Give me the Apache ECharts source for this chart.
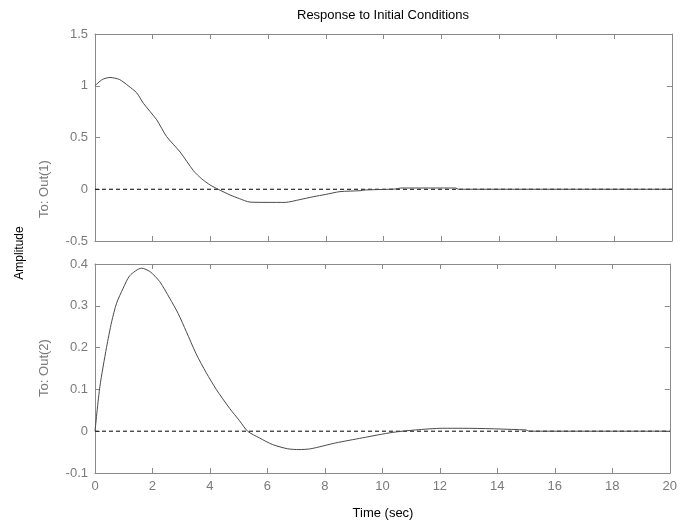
<!DOCTYPE html>
<html>
<head>
<meta charset="utf-8">
<script src="https://cdn.jsdelivr.net/npm/echarts@6/dist/echarts.min.js"></script>
<style>
  html, body { margin: 0; padding: 0; background: #fff; }
  #chart { width: 680px; height: 523px; }
</style>
</head>
<body>
<div id="chart"></div>
<script>
// Time samples (sec) and responses for each output
const timeOut1 = [0, 0.25, 0.52, 0.85, 1.15, 1.45, 1.68, 2.14, 2.48, 2.95, 3.41, 3.7, 3.99, 4.27, 4.68, 5.0, 5.37, 6.0, 6.59, 7.1, 7.57, 8.0, 8.49, 9.19, 9.36, 10.4, 10.6, 12.5, 12.6, 20];
const out1     = [1.0, 1.06, 1.08, 1.06, 1.0, 0.93, 0.83, 0.67, 0.51, 0.36, 0.18, 0.10, 0.041, 0.0, -0.055, -0.09, -0.124, -0.127, -0.127, -0.10, -0.072, -0.05, -0.023, -0.014, -0.007, 0.002, 0.012, 0.012, 0.0, 0.0];

const timeOut2 = [0, 0.17, 0.40, 0.58, 0.75, 0.98, 1.21, 1.62, 1.91, 2.25, 2.60, 2.89, 3.18, 3.52, 3.87, 4.22, 4.68, 5.03, 5.31, 5.72, 6.18, 6.70, 7.10, 7.51, 8.38, 9.30, 10.34, 11.15, 12.1, 12.8, 15.0, 15.1, 20];
const out2     = [0.0, 0.107, 0.200, 0.262, 0.306, 0.342, 0.372, 0.390, 0.382, 0.358, 0.318, 0.282, 0.238, 0.185, 0.140, 0.100, 0.055, 0.025, 0.0, -0.016, -0.032, -0.042, -0.044, -0.042, -0.028, -0.016, -0.003, 0.003, 0.007, 0.007, 0.003, 0.0, 0.0];

const xTicks = { min: 0, max: 20, interval: 2 };
const yTicksOut1 = { min: -0.5, max: 1.5, interval: 0.5 };
const yTicksOut2 = { min: -0.1, max: 0.4, interval: 0.1 };

const FONT = 'Liberation Sans';
const AXIS_GRAY = '#8a8a8a';
const LABEL_GRAY = '#7a7a7a';

function pairs(xs, ys) { return xs.map((x, i) => [x, ys[i]]); }

function xAxisPair(gridIndex, showLabels) {
  const common = {
    type: 'value', gridIndex, min: xTicks.min, max: xTicks.max, interval: xTicks.interval,
    axisLine: { show: true, onZero: false, lineStyle: { color: AXIS_GRAY, width: 1 } },
    axisTick: { show: true, inside: true, length: 5, lineStyle: { color: AXIS_GRAY } },
    splitLine: { show: false }
  };
  return [
    Object.assign({}, common, {
      position: 'bottom',
      axisLabel: { show: showLabels, color: LABEL_GRAY, fontFamily: FONT, fontSize: 13, margin: 7 }
    }),
    Object.assign({}, common, { position: 'top', axisLabel: { show: false } })
  ];
}

function yAxisPair(gridIndex, ticks) {
  const common = {
    type: 'value', gridIndex, min: ticks.min, max: ticks.max, interval: ticks.interval,
    axisLine: { show: true, onZero: false, lineStyle: { color: AXIS_GRAY, width: 1 } },
    axisTick: { show: true, inside: true, length: 5, lineStyle: { color: AXIS_GRAY } },
    splitLine: { show: false }
  };
  return [
    Object.assign({}, common, {
      position: 'left',
      axisLabel: {
        color: LABEL_GRAY, fontFamily: FONT, fontSize: 13, margin: 7,
        formatter: v => { const r = Math.round(v * 10) / 10; return r === 0 ? '0' : String(r); }
      }
    }),
    Object.assign({}, common, { position: 'right', axisLabel: { show: false } })
  ];
}

function curve(gridIdx, data) {
  return {
    type: 'line', xAxisIndex: gridIdx * 2, yAxisIndex: gridIdx * 2, data,
    showSymbol: false, smooth: 0.25, silent: true,
    lineStyle: { color: '#4a4a4a', width: 1 }, z: 3
  };
}
function zeroLine(gridIdx) {
  return {
    type: 'line', xAxisIndex: gridIdx * 2, yAxisIndex: gridIdx * 2,
    data: [[xTicks.min, 0], [xTicks.max, 0]],
    showSymbol: false, silent: true,
    lineStyle: { color: '#000', width: 1, type: [4, 3] }, z: 2
  };
}

const chart = echarts.init(document.getElementById('chart'), null, { renderer: 'canvas' });
chart.setOption({
  animation: false,
  backgroundColor: '#fff',
  grid: [
    { left: 95, right: 8, top: 34, height: 207 },
    { left: 95, right: 8, top: 264, height: 209 }
  ],
  xAxis: [].concat(xAxisPair(0, false), xAxisPair(1, true)),
  yAxis: [].concat(yAxisPair(0, yTicksOut1), yAxisPair(1, yTicksOut2)),
  series: [
    zeroLine(0), curve(0, pairs(timeOut1, out1)),
    zeroLine(1), curve(1, pairs(timeOut2, out2))
  ],
  graphic: [
    { type: 'text', x: 383, y: 15, style: { text: 'Response to Initial Conditions', fill: '#000', font: '13px "' + FONT + '"', align: 'center', verticalAlign: 'middle' } },
    { type: 'text', x: 383, y: 513, style: { text: 'Time (sec)', fill: '#000', font: '13px "' + FONT + '"', align: 'center', verticalAlign: 'middle' } },
    { type: 'text', x: 20, y: 253, rotation: Math.PI / 2, style: { text: 'Amplitude', fill: '#000', font: '12px "' + FONT + '"', align: 'center', verticalAlign: 'middle' } },
    { type: 'text', x: 44, y: 189, rotation: Math.PI / 2, style: { text: 'To: Out(1)', fill: LABEL_GRAY, font: '13px "' + FONT + '"', align: 'center', verticalAlign: 'middle' } },
    { type: 'text', x: 44, y: 368, rotation: Math.PI / 2, style: { text: 'To: Out(2)', fill: LABEL_GRAY, font: '13px "' + FONT + '"', align: 'center', verticalAlign: 'middle' } }
  ]
});
</script>
</body>
</html>
